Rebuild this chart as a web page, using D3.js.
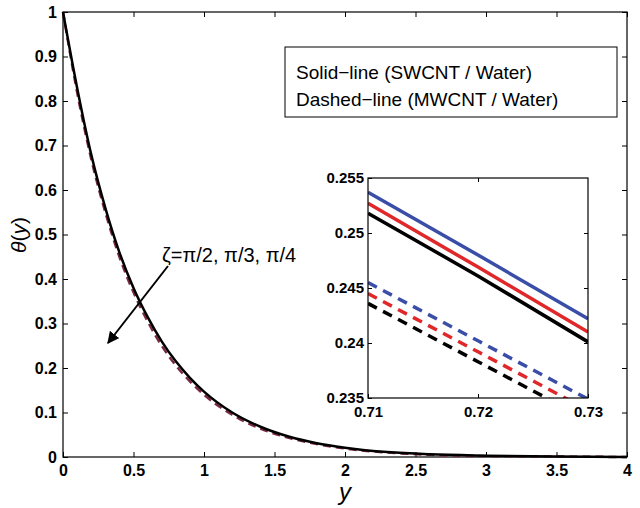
<!DOCTYPE html>
<html>
<head>
<meta charset="utf-8">
<script src="https://cdn.jsdelivr.net/npm/d3@7"></script>
<style>
body { margin: 0; background: #fff; }
text { font-family: "Liberation Sans", Arial, sans-serif; }
</style>
</head>
<body>
<script>
// main curves, values
var yVals = [0, 0.1, 0.2, 0.3, 0.4, 0.5, 0.6, 0.7, 0.8, 0.9, 1.0, 1.2, 1.4, 1.6, 1.8, 2.0, 2.3, 2.6, 3.0, 3.5, 4.0];
var solidTheta = [1, 0.83, 0.68, 0.56, 0.46, 0.38, 0.315, 0.26, 0.215, 0.178, 0.147, 0.1, 0.068, 0.046, 0.031, 0.021, 0.011, 0.006, 0.003, 0.001, 0];
var dashedTheta = [1, 0.82, 0.67, 0.55, 0.45, 0.37, 0.305, 0.25, 0.206, 0.17, 0.14, 0.095, 0.064, 0.043, 0.029, 0.019, 0.01, 0.005, 0.002, 0.001, 0];
// inset
var insetX = [0.71, 0.72, 0.73];
var insetSolid = {
  blue:  [0.2537, 0.2480, 0.2422],
  red:   [0.2527, 0.2469, 0.2410],
  black: [0.2518, 0.2461, 0.2401]
};
var insetDashed = {
  blue:  [0.2455, 0.2402, 0.2349],
  red:   [0.2445, 0.2392, 0.2339],
  black: [0.2436, 0.2383, 0.2330]
};
var colors = { blue: "#3a4ea8", red: "#e0272a", black: "#000" };
var xTicks = [0, 0.5, 1, 1.5, 2, 2.5, 3, 3.5, 4];
var yTicks = d3.range(0, 11).map(function (d) { return d / 10; });

var svg = d3.select("body").append("svg").attr("width", 640).attr("height", 508);

var x = d3.scaleLinear().domain([0, 4]).range([63, 627]);
var y = d3.scaleLinear().domain([0, 1]).range([457, 12]);

function axisText(g, size) {
  g.selectAll("text").attr("font-size", size).attr("font-weight", "bold").attr("fill", "#000");
  g.select(".domain").remove();
}
svg.append("g").attr("transform", "translate(0,457)")
  .call(d3.axisBottom(x).tickValues(xTicks).tickSize(-5).tickPadding(8).tickFormat(d3.format("")))
  .call(axisText, 16);
svg.append("g").attr("transform", "translate(63,0)")
  .call(d3.axisLeft(y).tickValues(yTicks).tickSize(-5).tickPadding(6).tickFormat(d3.format("")))
  .call(axisText, 16);
svg.append("g").attr("transform", "translate(0,12)")
  .call(d3.axisTop(x).tickValues(xTicks).tickSize(-5).tickFormat(""))
  .call(function (g) { g.select(".domain").remove(); });
svg.append("g").attr("transform", "translate(627,0)")
  .call(d3.axisRight(y).tickValues(yTicks).tickSize(-5).tickFormat(""))
  .call(function (g) { g.select(".domain").remove(); });
svg.append("rect").attr("x", 63).attr("y", 12).attr("width", 564).attr("height", 445)
  .attr("fill", "none").attr("stroke", "#000").attr("stroke-width", 1.2);

var line = d3.line().curve(d3.curveMonotoneX);
svg.append("path").attr("d", line(yVals.map(function (d, i) { return [x(d), y(dashedTheta[i])]; })))
  .attr("fill", "none").attr("stroke", "#7a2a40").attr("stroke-width", 2.5).attr("stroke-dasharray", "8,5");
svg.append("path").attr("d", line(yVals.map(function (d, i) { return [x(d), y(solidTheta[i])]; })))
  .attr("fill", "none").attr("stroke", "#000").attr("stroke-width", 2.5);

// axis titles
svg.append("text").attr("x", 345).attr("y", 500).attr("text-anchor", "middle")
  .attr("font-size", 24).attr("font-style", "italic").attr("font-family", "DejaVu Serif").text("y");
svg.append("text").attr("transform", "translate(26,235) rotate(-90)").attr("text-anchor", "middle")
  .attr("font-size", 21).attr("font-family", "DejaVu Serif").html('<tspan font-style="italic">θ</tspan>(<tspan font-style="italic">y</tspan>)');

// legend box
svg.append("rect").attr("x", 285).attr("y", 47).attr("width", 332).attr("height", 70)
  .attr("fill", "#fff").attr("stroke", "#000");
svg.append("text").attr("x", 296).attr("y", 79).attr("font-size", 19).text("Solid\u2212line (SWCNT / Water)");
svg.append("text").attr("x", 296).attr("y", 106).attr("font-size", 19).text("Dashed\u2212line (MWCNT / Water)");

// annotation
svg.append("defs").append("marker").attr("id", "ah").attr("viewBox", "0 0 10 10")
  .attr("refX", 9).attr("refY", 5).attr("markerWidth", 6).attr("markerHeight", 6).attr("orient", "auto")
  .append("path").attr("d", "M0,0 L10,5 L0,10 z").attr("fill", "#000");
svg.append("line").attr("x1", 168).attr("y1", 266).attr("x2", 108).attr("y2", 343)
  .attr("stroke", "#000").attr("stroke-width", 2).attr("marker-end", "url(#ah)");
svg.append("text").attr("x", 162).attr("y", 262).attr("font-size", 20).text("ζ=π/2, π/3, π/4");

// inset
var L = 368, R = 588, T = 178, B = 398;
var ix = d3.scaleLinear().domain([0.71, 0.73]).range([L, R]);
var iy = d3.scaleLinear().domain([0.235, 0.255]).range([B, T]);
var ins = svg.append("g");
ins.append("rect").attr("x", L).attr("y", T).attr("width", R - L).attr("height", B - T).attr("fill", "#fff");
ins.append("clipPath").attr("id", "ic").append("rect").attr("x", L).attr("y", T).attr("width", R - L).attr("height", B - T);
ins.append("g").attr("transform", "translate(0," + B + ")")
  .call(d3.axisBottom(ix).tickValues([0.71, 0.72, 0.73]).tickSize(-4).tickPadding(8).tickFormat(d3.format(".2f")))
  .call(axisText, 15);
ins.append("g").attr("transform", "translate(" + L + ",0)")
  .call(d3.axisLeft(iy).tickValues([0.235, 0.24, 0.245, 0.25, 0.255]).tickSize(-4).tickPadding(4).tickFormat(d3.format("")))
  .call(axisText, 15);
ins.append("g").attr("transform", "translate(0," + T + ")")
  .call(d3.axisTop(ix).tickValues([0.72]).tickSize(-4).tickFormat("")).call(function (g) { g.select(".domain").remove(); });
ins.append("g").attr("transform", "translate(" + R + ",0)")
  .call(d3.axisRight(iy).tickValues([0.24, 0.245, 0.25]).tickSize(-4).tickFormat("")).call(function (g) { g.select(".domain").remove(); });
var il = d3.line().x(function (d, i) { return ix(insetX[i]); }).y(function (d) { return iy(d); });
var pl = ins.append("g").attr("clip-path", "url(#ic)");
["blue", "red", "black"].forEach(function (k) {
  pl.append("path").attr("d", il(insetDashed[k])).attr("fill", "none")
    .attr("stroke", colors[k]).attr("stroke-width", 3.5).attr("stroke-dasharray", "10,7");
  pl.append("path").attr("d", il(insetSolid[k])).attr("fill", "none")
    .attr("stroke", colors[k]).attr("stroke-width", 3.5);
});
ins.append("rect").attr("x", L).attr("y", T).attr("width", R - L).attr("height", B - T)
  .attr("fill", "none").attr("stroke", "#000").attr("stroke-width", 1.2);
</script>
</body>
</html>
